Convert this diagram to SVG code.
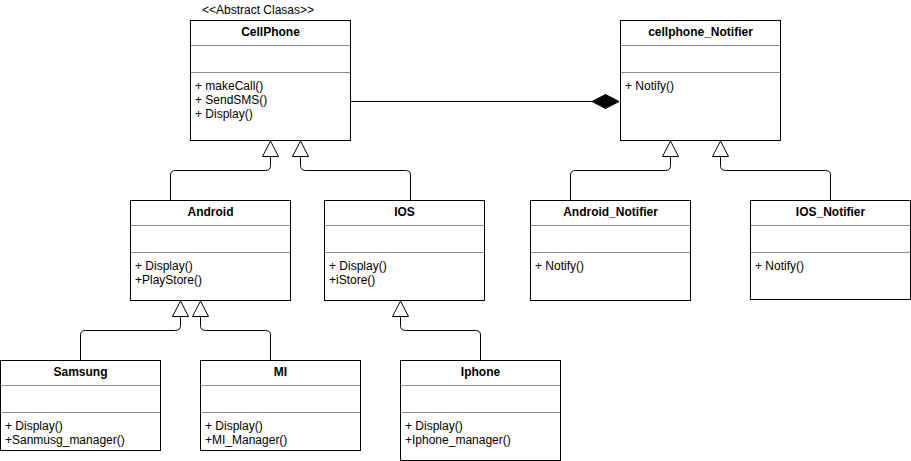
<svg xmlns="http://www.w3.org/2000/svg" width="911" height="461" viewBox="0 0 911 461">
<style>
.box{fill:#fff;stroke:#000;stroke-width:1}
.div{stroke:#000;stroke-width:1;stroke-opacity:0.45}
.t{font-family:"Liberation Sans",Arial,sans-serif;font-size:12px;fill:#000}
.b{font-weight:bold;text-anchor:middle}
.c{fill:none;stroke:#000;stroke-width:1}
.tri{fill:#fff;stroke:#000;stroke-width:1}
</style>
<rect width="911" height="461" fill="#fff"/>
<g id="connectors">
<path class="c" d="M170.5,200 V175 Q170.5,170.5 175.5,170.5 H265.5 Q270.5,170.5 270.5,165.5 V156"/>
<path class="c" d="M410.5,200 V175 Q410.5,170.5 405.5,170.5 H305.5 Q300.5,170.5 300.5,165.5 V156"/>
<path class="c" d="M570.5,200 V175 Q570.5,170.5 575.5,170.5 H665.5 Q670.5,170.5 670.5,165.5 V156"/>
<path class="c" d="M830.5,200 V175 Q830.5,170.5 825.5,170.5 H725.5 Q720.5,170.5 720.5,165.5 V156"/>
<path class="c" d="M80.5,360 V335 Q80.5,330.5 85.5,330.5 H175.5 Q180.5,330.5 180.5,325.5 V316"/>
<path class="c" d="M270.5,360 V335 Q270.5,330.5 265.5,330.5 H205.5 Q200.5,330.5 200.5,325.5 V316"/>
<path class="c" d="M480.5,360 V335 Q480.5,330.5 475.5,330.5 H405.5 Q400.5,330.5 400.5,325.5 V316"/>
<polygon class="tri" points="270.5,141 262.5,156.5 278.5,156.5"/>
<polygon class="tri" points="300.5,141 292.5,156.5 308.5,156.5"/>
<polygon class="tri" points="670.5,141 662.5,156.5 678.5,156.5"/>
<polygon class="tri" points="720.5,141 712.5,156.5 728.5,156.5"/>
<polygon class="tri" points="180.5,301 172.5,316.5 188.5,316.5"/>
<polygon class="tri" points="200.5,301 192.5,316.5 208.5,316.5"/>
<polygon class="tri" points="400.5,301 392.5,316.5 408.5,316.5"/>
<path class="c" d="M350.5,101.5 H592"/>
<polygon points="592,101.5 605.5,94.5 619,101.5 605.5,108.5" fill="#000" stroke="#000"/>
</g>
<text class="t" x="258" y="14" text-anchor="middle">&lt;&lt;Abstract Clasas&gt;&gt;</text>
<g id="CellPhone">
<rect class="box" x="190.5" y="20.5" width="160" height="120"/>
<line class="div" x1="190.5" y1="45.5" x2="350.5" y2="45.5"/>
<line class="div" x1="190.5" y1="72.5" x2="350.5" y2="72.5"/>
<text class="t b" x="270.5" y="36">CellPhone</text>
<text class="t" x="195" y="90">+ makeCall()</text>
<text class="t" x="195" y="104">+ SendSMS()</text>
<text class="t" x="195" y="118">+ Display()</text>
</g>
<g id="cellphone_Notifier">
<rect class="box" x="620.5" y="20.5" width="160" height="120"/>
<line class="div" x1="620.5" y1="45.5" x2="780.5" y2="45.5"/>
<line class="div" x1="620.5" y1="72.5" x2="780.5" y2="72.5"/>
<text class="t b" x="700.5" y="36">cellphone_Notifier</text>
<text class="t" x="625" y="90">+ Notify()</text>
</g>
<g id="Android">
<rect class="box" x="130.5" y="200.5" width="160" height="100"/>
<line class="div" x1="130.5" y1="225.5" x2="290.5" y2="225.5"/>
<line class="div" x1="130.5" y1="252.5" x2="290.5" y2="252.5"/>
<text class="t b" x="210.5" y="216">Android</text>
<text class="t" x="135" y="270">+ Display()</text>
<text class="t" x="135" y="284">+PlayStore()</text>
</g>
<g id="IOS">
<rect class="box" x="324.5" y="200.5" width="160" height="100"/>
<line class="div" x1="324.5" y1="225.5" x2="484.5" y2="225.5"/>
<line class="div" x1="324.5" y1="252.5" x2="484.5" y2="252.5"/>
<text class="t b" x="404.5" y="216">IOS</text>
<text class="t" x="329" y="270">+ Display()</text>
<text class="t" x="329" y="284">+iStore()</text>
</g>
<g id="Android_Notifier">
<rect class="box" x="530.5" y="200.5" width="160" height="100"/>
<line class="div" x1="530.5" y1="225.5" x2="690.5" y2="225.5"/>
<line class="div" x1="530.5" y1="252.5" x2="690.5" y2="252.5"/>
<text class="t b" x="610.5" y="216">Android_Notifier</text>
<text class="t" x="535" y="270">+ Notify()</text>
</g>
<g id="IOS_Notifier">
<rect class="box" x="750.5" y="200.5" width="160" height="99"/>
<line class="div" x1="750.5" y1="225.5" x2="910.5" y2="225.5"/>
<line class="div" x1="750.5" y1="252.5" x2="910.5" y2="252.5"/>
<text class="t b" x="830.5" y="216">IOS_Notifier</text>
<text class="t" x="755" y="270">+ Notify()</text>
</g>
<g id="Samsung">
<rect class="box" x="0.5" y="360.5" width="160" height="90"/>
<line class="div" x1="0.5" y1="385.5" x2="160.5" y2="385.5"/>
<line class="div" x1="0.5" y1="412.5" x2="160.5" y2="412.5"/>
<text class="t b" x="80.5" y="376">Samsung</text>
<text class="t" x="5" y="430">+ Display()</text>
<text class="t" x="5" y="444">+Sanmusg_manager()</text>
</g>
<g id="MI">
<rect class="box" x="200.5" y="360.5" width="160" height="90"/>
<line class="div" x1="200.5" y1="385.5" x2="360.5" y2="385.5"/>
<line class="div" x1="200.5" y1="412.5" x2="360.5" y2="412.5"/>
<text class="t b" x="280.5" y="376">MI</text>
<text class="t" x="205" y="430">+ Display()</text>
<text class="t" x="205" y="444">+MI_Manager()</text>
</g>
<g id="Iphone">
<rect class="box" x="400.5" y="360.5" width="160" height="100"/>
<line class="div" x1="400.5" y1="385.5" x2="560.5" y2="385.5"/>
<line class="div" x1="400.5" y1="412.5" x2="560.5" y2="412.5"/>
<text class="t b" x="480.5" y="376">Iphone</text>
<text class="t" x="405" y="430">+ Display()</text>
<text class="t" x="405" y="444">+Iphone_manager()</text>
</g>
</svg>
